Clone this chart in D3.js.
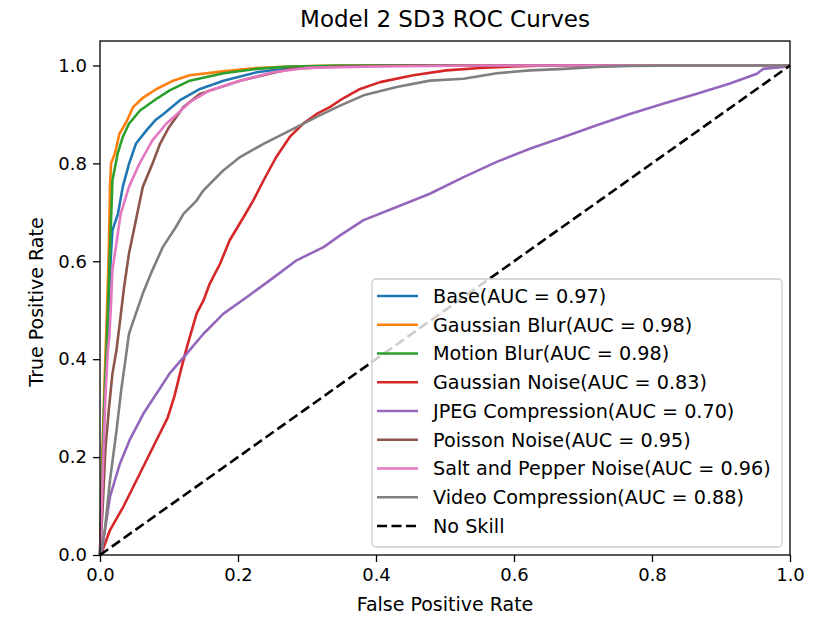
<!DOCTYPE html>
<html>
<head>
<meta charset="utf-8">
<script src="https://cdn.jsdelivr.net/npm/d3@7"></script>
<style>
  body { margin: 0; background: #fff; }
  text { font-family: "DejaVu Sans", sans-serif; fill: #000; }
</style>
</head>
<body>
<div id="chart"></div>
<script>
// ROC points, [fpr, tpr]
const base = [[0,0],[0.003,0.15],[0.006,0.3],[0.011,0.445],[0.0135,0.548],[0.016,0.616],[0.018,0.663],[0.026,0.697],[0.033,0.752],[0.042,0.799],[0.052,0.84],[0.067,0.867],[0.08,0.888],[0.092,0.901],[0.116,0.929],[0.145,0.952],[0.179,0.969],[0.227,0.986],[0.275,0.995],[0.323,0.998],[0.4,1],[1,1]];
const gaussianBlur = [[0,0],[0.003,0.18],[0.006,0.33],[0.0097,0.48],[0.0126,0.616],[0.0145,0.752],[0.016,0.8],[0.0217,0.82],[0.028,0.86],[0.038,0.884],[0.048,0.915],[0.063,0.935],[0.082,0.952],[0.106,0.969],[0.13,0.98],[0.178,0.988],[0.227,0.995],[0.275,0.998],[0.35,1],[1,1]];
const motionBlur = [[0,0],[0.003,0.15],[0.006,0.3],[0.011,0.48],[0.0135,0.582],[0.016,0.684],[0.018,0.765],[0.0256,0.82],[0.033,0.854],[0.042,0.881],[0.058,0.908],[0.082,0.932],[0.101,0.949],[0.13,0.969],[0.179,0.984],[0.227,0.993],[0.275,0.998],[0.35,1],[1,1]];
const gaussianNoise = [[0,0],[0.002,0.003],[0.0145,0.051],[0.034,0.099],[0.058,0.167],[0.082,0.235],[0.098,0.28],[0.108,0.325],[0.116,0.371],[0.126,0.425],[0.14,0.493],[0.15,0.52],[0.159,0.554],[0.174,0.595],[0.188,0.643],[0.208,0.69],[0.222,0.724],[0.237,0.765],[0.255,0.812],[0.275,0.854],[0.295,0.882],[0.314,0.901],[0.333,0.915],[0.348,0.929],[0.377,0.952],[0.406,0.966],[0.454,0.98],[0.502,0.99],[0.551,0.995],[0.599,0.998],[0.65,1],[1,1]];
const jpegCompression = [[0,0],[0.002,0.003],[0.0145,0.119],[0.029,0.187],[0.043,0.235],[0.063,0.289],[0.082,0.33],[0.101,0.371],[0.126,0.412],[0.15,0.452],[0.179,0.493],[0.213,0.527],[0.246,0.561],[0.285,0.602],[0.324,0.629],[0.348,0.653],[0.382,0.684],[0.43,0.711],[0.478,0.738],[0.527,0.772],[0.575,0.803],[0.623,0.83],[0.672,0.854],[0.72,0.878],[0.768,0.901],[0.816,0.922],[0.865,0.942],[0.913,0.963],[0.952,0.983],[0.961,0.993],[0.99,0.997],[1,1]];
const poissonNoise = [[0,0],[0.004,0.1],[0.008,0.22],[0.013,0.3],[0.018,0.37],[0.024,0.42],[0.028,0.466],[0.035,0.548],[0.042,0.616],[0.052,0.684],[0.062,0.752],[0.076,0.799],[0.087,0.84],[0.1,0.874],[0.121,0.915],[0.145,0.942],[0.203,0.969],[0.275,0.993],[0.348,0.998],[0.45,1],[1,1]];
const saltPepper = [[0,0],[0.003,0.12],[0.006,0.25],[0.008,0.33],[0.0115,0.42],[0.0135,0.445],[0.016,0.514],[0.018,0.582],[0.023,0.629],[0.03,0.697],[0.042,0.752],[0.057,0.799],[0.076,0.847],[0.096,0.881],[0.115,0.905],[0.13,0.925],[0.159,0.949],[0.203,0.969],[0.251,0.986],[0.299,0.995],[0.4,0.998],[0.55,1],[1,1]];
const videoCompression = [[0,0],[0.007,0.051],[0.0145,0.153],[0.024,0.255],[0.031,0.34],[0.036,0.39],[0.042,0.452],[0.052,0.493],[0.062,0.534],[0.076,0.582],[0.091,0.629],[0.11,0.67],[0.121,0.697],[0.14,0.724],[0.15,0.745],[0.179,0.786],[0.203,0.813],[0.237,0.84],[0.275,0.867],[0.314,0.895],[0.348,0.918],[0.382,0.939],[0.43,0.956],[0.478,0.969],[0.527,0.973],[0.575,0.984],[0.623,0.99],[0.672,0.993],[0.72,0.997],[0.768,0.999],[0.85,1],[1,1]];
const noSkill = [[0,0],[1,1]];

const seriesNames = ["Base","Gaussian Blur","Motion Blur","Gaussian Noise","JPEG Compression","Poisson Noise","Salt and Pepper Noise","Video Compression"];
const aucValues = [0.97,0.98,0.98,0.83,0.70,0.95,0.96,0.88];
const seriesData = [base,gaussianBlur,motionBlur,gaussianNoise,jpegCompression,poissonNoise,saltPepper,videoCompression];
const colors = ["#1f77b4","#ff7f0e","#2ca02c","#d62728","#9467bd","#8c564b","#e377c2","#7f7f7f"];
const xTicks = [0,0.2,0.4,0.6,0.8,1.0];
const yTicks = [0,0.2,0.4,0.6,0.8,1.0];

// dimensions
const margin = { top: 41, right: 30, bottom: 62, left: 100 },
    width = 820 - margin.left - margin.right,
    height = 617 - margin.top - margin.bottom;

const svg = d3.select("#chart")
    .append("svg")
    .attr("width", 820)
    .attr("height", 617);

const g = svg.append("g")
    .attr("transform", `translate(${margin.left},${margin.top})`);

const x = d3.scaleLinear().domain([0, 1]).range([0, width]);
const y = d3.scaleLinear().domain([0, 1.05]).range([height, 0]);

// axes
const xAxis = g.append("g")
    .attr("transform", `translate(0,${height})`)
    .call(d3.axisBottom(x).tickValues(xTicks).tickFormat(d3.format(".1f")).tickSize(7).tickPadding(6));
const yAxis = g.append("g")
    .call(d3.axisLeft(y).tickValues(yTicks).tickFormat(d3.format(".1f")).tickSize(7).tickPadding(6));
[xAxis, yAxis].forEach(a => {
    a.select(".domain").remove();
    a.selectAll(".tick line").attr("stroke", "#000").attr("stroke-width", 1.3);
    a.selectAll(".tick text").style("font-size", "18px").style("font-family", "DejaVu Sans").attr("fill", "#000");
});

// curves
const line = d3.line().x(d => x(d[0])).y(d => y(d[1]));
seriesData.forEach((s, i) => {
    g.append("path")
        .datum(s)
        .attr("d", line)
        .attr("fill", "none")
        .attr("stroke", colors[i])
        .attr("stroke-width", 2.6)
        .attr("stroke-linejoin", "round");
});
g.append("path")
    .datum(noSkill)
    .attr("d", line)
    .attr("fill", "none")
    .attr("stroke", "#000")
    .attr("stroke-width", 2.6)
    .attr("stroke-dasharray", "10,4.5");

// frame
g.append("rect")
    .attr("width", width)
    .attr("height", height)
    .attr("fill", "none")
    .attr("stroke", "#000")
    .attr("stroke-width", 1.3);

// title and labels
svg.append("text")
    .attr("x", margin.left + width / 2)
    .attr("y", 27)
    .attr("text-anchor", "middle")
    .style("font-size", "23px")
    .text("Model 2 SD3 ROC Curves");
svg.append("text")
    .attr("x", margin.left + width / 2)
    .attr("y", 611)
    .attr("text-anchor", "middle")
    .style("font-size", "19px")
    .text("False Positive Rate");
svg.append("text")
    .attr("transform", "translate(43,302) rotate(-90)")
    .attr("text-anchor", "middle")
    .style("font-size", "19px")
    .text("True Positive Rate");

// legend
const legendItems = seriesNames.map((n, i) => ({ name: n + "(AUC = " + aucValues[i].toFixed(2) + ")", color: colors[i], dash: null }));
legendItems.push({ name: "No Skill", color: "#000", dash: "10,4.5" });

const legend = svg.append("g").attr("transform", "translate(372,279)");
legend.append("rect")
    .attr("width", 410)
    .attr("height", 268)
    .attr("rx", 4)
    .attr("fill", "#fff")
    .attr("fill-opacity", 0.8)
    .attr("stroke", "#cccccc")
    .attr("stroke-width", 1.3);
const rowH = 28.75;
legend.selectAll(".lg-line")
    .data(legendItems)
    .enter()
    .append("line")
    .attr("x1", 5)
    .attr("x2", 46)
    .attr("y1", (d, i) => 17 + rowH * i)
    .attr("y2", (d, i) => 17 + rowH * i)
    .attr("stroke", d => d.color)
    .attr("stroke-width", 2.6)
    .attr("stroke-dasharray", d => d.dash);
legend.selectAll(".lg-text")
    .data(legendItems)
    .enter()
    .append("text")
    .attr("x", 61)
    .attr("y", (d, i) => 17 + rowH * i)
    .attr("dy", "0.36em")
    .style("font-size", "19.2px")
    .attr("fill", "#262626")
    .text(d => d.name);
</script>
</body>
</html>
